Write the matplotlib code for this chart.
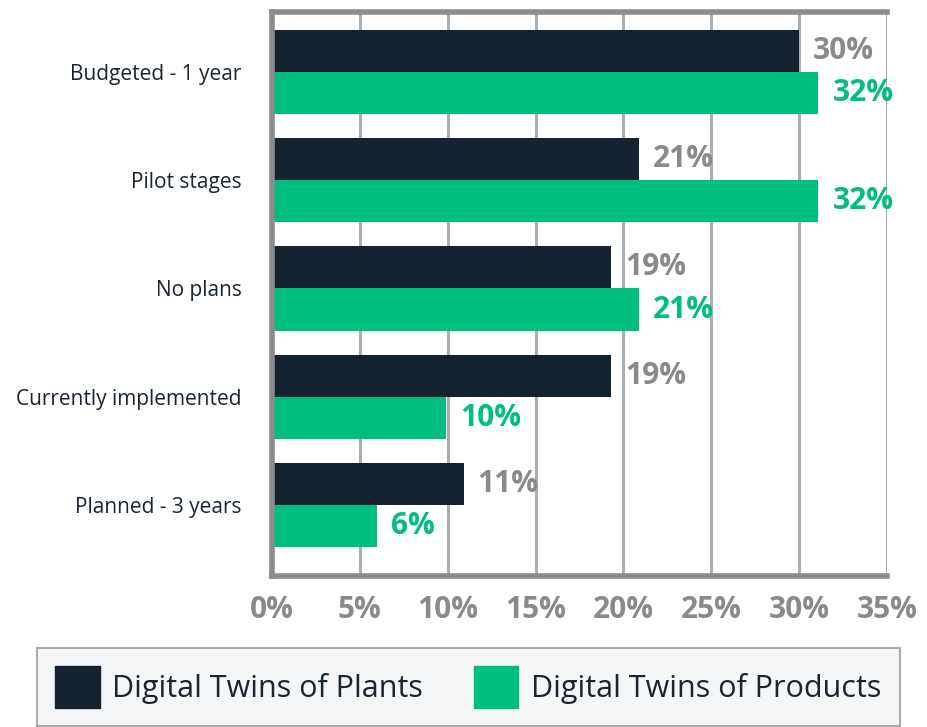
import matplotlib
matplotlib.use("Agg")
import matplotlib.pyplot as plt
import numpy as np
from matplotlib.patches import Patch

categories = ["Budgeted - 1 year", "Pilot stages", "No plans", "Currently implemented", "Planned - 3 years"]
plants = [30.0, 20.9, 19.3, 19.3, 10.9]
products = [31.1, 31.1, 20.9, 9.9, 6.0]
plants_labels = ["30%", "21%", "19%", "19%", "11%"]
products_labels = ["32%", "32%", "21%", "10%", "6%"]
xticks = [0, 5, 10, 15, 20, 25, 30, 35]
xtick_labels = ["0%", "5%", "10%", "15%", "20%", "25%", "30%", "35%"]
series_names = ["Digital Twins of Plants", "Digital Twins of Products"]

NAVY = "#152331"
GREEN = "#00be80"
GRAY = "#8a8a8c"
GRID = "#a9aeb5"
SPINE = "#8c8c8e"

plt.rcParams['font.family'] = ['Open Sans', 'DejaVu Sans']

fig = plt.figure(figsize=(9.28, 7.27), dpi=100)
ax = fig.add_axes([272/928, 1-576/727, (887-272)/928, (576-12)/727])

y = np.arange(len(categories))
h = 0.39
ax.barh(y - h/2, plants, height=h, color=NAVY, zorder=3)
ax.barh(y + h/2, products, height=h, color=GREEN, zorder=3)

for yi, v, lab in zip(y, plants, plants_labels):
    ax.text(v + 0.8, yi - h/2, lab, va='center', ha='left', color=GRAY,
            fontsize=21.5, fontweight='bold', zorder=4)
for yi, v, lab in zip(y, products, products_labels):
    ax.text(v + 0.8, yi + h/2, lab, va='center', ha='left', color=GREEN,
            fontsize=21.5, fontweight='bold', zorder=4)

ax.set_xlim(0, 35)
ax.set_ylim(len(categories) - 1 + 0.656, -0.554)
ax.set_yticks(y)
ax.set_yticklabels(categories, fontsize=15, color="#1a2533")
ax.set_xticks(xticks)
ax.set_xticklabels(xtick_labels, fontsize=21.5, fontweight='bold', color=GRAY)
ax.tick_params(axis='both', length=0)
ax.tick_params(axis='y', pad=22)
ax.tick_params(axis='x', pad=14)
ax.grid(axis='x', color=GRID, linewidth=2.2, zorder=1)
ax.set_axisbelow(True)
for s in ['left', 'bottom', 'top']:
    ax.spines[s].set_color(SPINE)
    ax.spines[s].set_linewidth(4)
    ax.spines[s].set_zorder(5)
ax.spines['right'].set_visible(False)

handles = [Patch(facecolor=NAVY, edgecolor=NAVY), Patch(facecolor=GREEN, edgecolor=GREEN)]
leg = fig.legend(handles, series_names, loc='upper left',
                 bbox_to_anchor=(37/928, 1-648/727, (900-37)/928, 0.0),
                 mode='expand', borderaxespad=0,
                 ncol=2, fontsize=22, frameon=True, fancybox=False,
                 handlelength=1.45, handleheight=1.72, handletextpad=0.42,
                 columnspacing=0.8, borderpad=0.6, labelcolor="#1a2533")
leg.get_frame().set_facecolor("#f3f4f6")
leg.get_frame().set_edgecolor("#9a9a9a")
leg.get_frame().set_linewidth(1.5)

fig.savefig("out.png", dpi=100)
